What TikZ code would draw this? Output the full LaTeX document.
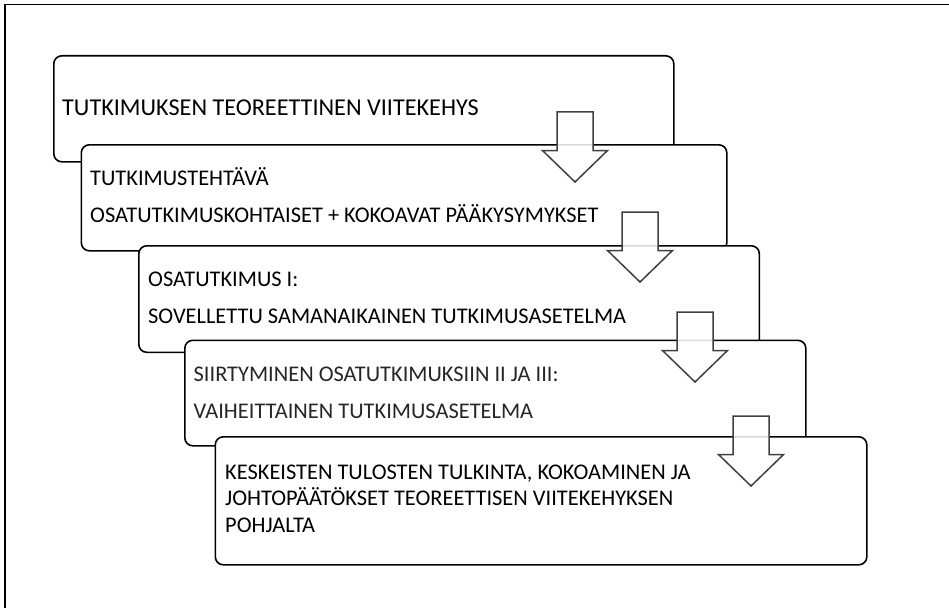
\documentclass[tikz,border=0pt]{standalone}
\usepackage{fontspec}
\setmainfont{Carlito}
\begin{document}
\begin{tikzpicture}[x=1pt,y=-1pt,
  box/.style={draw=black, line width=1.6pt, fill=white, rounded corners=8pt, anchor=north west, inner sep=0pt},
  lbl/.style={anchor=base west, inner sep=0pt, font=\fontsize{22.4}{26}\selectfont, text=black},
  arrowline/.style={draw=black!75, line width=1.5pt, fill=white, fill opacity=0.85, line join=miter},
  darrow/.pic={\path[arrowline] (-18,0) -- (18,0) -- (18,38.5) -- (32.5,38.5) -- (0,70) -- (-32.5,38.5) -- (-18,38.5) -- cycle;}
]
\useasboundingbox (0,0) rectangle (949,607);
\draw[line width=1.6pt] (5,610) -- (5,4.5) -- (952,4.5);

\node[box, minimum width=620pt, minimum height=106pt] (b1) at (53,55) {};
\node[box, minimum width=645.5pt, minimum height=106pt] (b2) at (80.5,144) {};
\node[box, minimum width=620.5pt, minimum height=106.5pt] (b3) at (138,245) {};
\node[box, minimum width=621pt, minimum height=105.5pt] (b4) at (184,339.5) {};
\node[box, minimum width=651.5pt, minimum height=128pt] (b5) at (214.5,436) {};

\node[lbl, font=\fontsize{24.2}{28}\selectfont] (t1) at (62,115) {TUTKIMUKSEN TEOREETTINEN VIITEKEHYS};
\node[lbl] (t2a) at (90,185.5) {TUTKIMUSTEHTÄVÄ};
\node[lbl] (t2b) at (90,222) {OSATUTKIMUSKOHTAISET + KOKOAVAT PÄÄKYSYMYKSET};
\node[lbl] (t3a) at (148,286.5) {OSATUTKIMUS I:};
\node[lbl] (t3b) at (148,323.5) {SOVELLETTU SAMANAIKAINEN TUTKIMUSASETELMA};
\node[lbl, text=black!85] (t4a) at (193.5,381) {SIIRTYMINEN OSATUTKIMUKSIIN II JA III:};
\node[lbl, text=black!85] (t4b) at (193.5,418) {VAIHEITTAINEN TUTKIMUSASETELMA};
\node[lbl] (t5a) at (225,479.3) {KESKEISTEN TULOSTEN TULKINTA, KOKOAMINEN JA};
\node[lbl] (t5b) at (225,505.6) {JOHTOPÄÄTÖKSET TEOREETTISEN VIITEKEHYKSEN};
\node[lbl] (t5c) at (225,532) {POHJALTA};

\pic at (575,112) {darrow};
\pic at (640,212) {darrow};
\pic at (695,312) {darrow};
\pic at (751,416) {darrow};
\end{tikzpicture}
\end{document}
